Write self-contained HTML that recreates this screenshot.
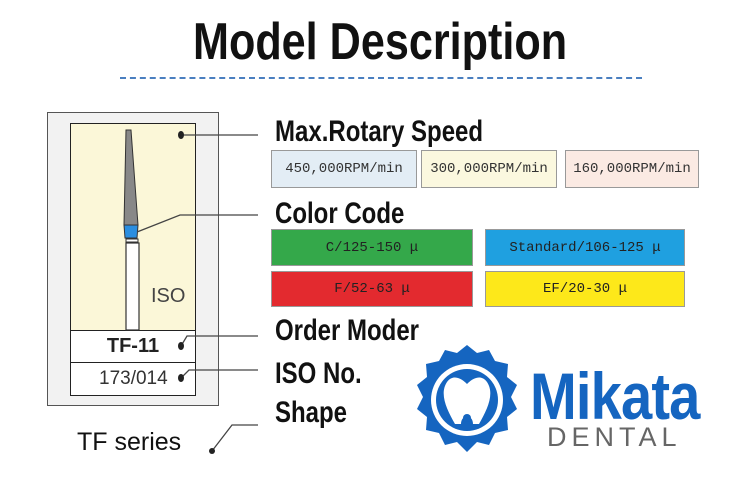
<!DOCTYPE html>
<html><head><meta charset="utf-8"><style>
body{margin:0;width:750px;height:488px;background:#fff;position:relative;overflow:hidden;font-family:"Liberation Sans",sans-serif}
.a{position:absolute}
.h{font-weight:bold;color:#111;white-space:nowrap;transform-origin:left center;transform:scaleX(.8)}
.box{position:absolute;border:1px solid #999;font-family:"Liberation Mono",monospace;font-size:14px;color:#333;display:flex;align-items:center;justify-content:center;box-sizing:border-box}
</style></head><body>
<div class="a h" style="left:193px;top:12px;font-size:52px;transform:scaleX(.83);transform-origin:left top">Model Description</div>
<div class="a" style="left:120px;top:77px;width:522px;border-top:2px dashed #4a7fc0"></div>

<div class="a" style="left:47px;top:112px;width:172px;height:294px;border:1px solid #555;background:#f2f2f2;box-sizing:border-box"></div>
<div class="a" style="left:70px;top:123px;width:126px;height:273px;border:1.5px solid #222;background:#fbf7d8;box-sizing:border-box"></div>
<div class="a" style="left:70px;top:330px;width:126px;height:33px;border:1.5px solid #222;background:#fff;box-sizing:border-box;font-weight:bold;font-size:20px;text-align:center;line-height:31px;color:#222">TF-11</div>
<div class="a" style="left:70px;top:362px;width:126px;height:34px;border:1.5px solid #222;background:#fff;box-sizing:border-box;font-size:19px;padding-left:28px;line-height:32px;color:#333">173/014</div>
<div class="a" style="left:151px;top:285px;font-size:20px;color:#444">ISO</div>
<div class="a" style="left:77px;top:428px;font-size:25px;color:#111">TF series</div>

<svg class="a" style="left:0;top:0" width="750" height="488">
<polygon points="126,130 131,130 138,225 124,225" fill="#888" stroke="#333" stroke-width="1"/>
<polygon points="124,225 138,225 137,238 125,238" fill="#2a8ee0" stroke="#333" stroke-width="1"/>
<rect x="126" y="239" width="12" height="3" fill="#fff" stroke="#333"/>
<rect x="126" y="243" width="13" height="87" fill="#fff" stroke="#333" stroke-width="1.2"/>
<g stroke="#444" stroke-width="1.3" fill="none">
<polyline points="181,135 258,135"/>
<polyline points="137,232 180,215 258,215"/>
<polyline points="181,346 187,336 258,336"/>
<polyline points="181,378 189,370 258,370"/>
<polyline points="212,451 232,425 258,425"/>
</g>
<g fill="#222"><ellipse cx="181" cy="135" rx="3" ry="4"/><ellipse cx="181" cy="346" rx="3" ry="4"/><ellipse cx="181" cy="378" rx="3" ry="4"/><ellipse cx="212" cy="451" rx="3" ry="3"/></g>
<g transform="translate(467,400)">
<path fill="#1565c0" d="M0,-55 L10,-47 22,-50 28,-39 41,-36 40,-23 50,-15 44,-3 50,9 40,17 41,30 28,33 22,45 10,42 0,52 -10,42 -22,45 -28,33 -41,30 -40,17 -50,9 -44,-3 -50,-15 -40,-23 -41,-36 -28,-39 -22,-50 -10,-47Z"/>
<circle r="36" fill="#fff"/><circle r="31" fill="#1565c0"/>
<path fill="#fff" d="M-20,-18 C-14,-26 -6,-22 0,-16 C6,-22 14,-26 20,-18 C28,-6 20,10 12,24 L6,24 C6,14 -6,14 -6,24 L-12,24 C-20,10 -28,-6 -20,-18Z"/>
<circle cx="0" cy="18" r="4" fill="#1565c0"/>
</g>
</svg>

<div class="a h" style="left:275px;top:115px;font-size:30px">Max.Rotary Speed</div>
<div class="a h" style="left:275px;top:197px;font-size:30px">Color Code</div>
<div class="a h" style="left:275px;top:314px;font-size:30px">Order Moder</div>
<div class="a h" style="left:275px;top:357px;font-size:30px">ISO No.</div>
<div class="a h" style="left:275px;top:396px;font-size:30px">Shape</div>

<div class="box" style="left:271px;top:150px;width:146px;height:38px;background:#e3edf5">450,000RPM/min</div>
<div class="box" style="left:421px;top:150px;width:136px;height:38px;background:#fbf8df">300,000RPM/min</div>
<div class="box" style="left:565px;top:150px;width:134px;height:38px;background:#fbeae3">160,000RPM/min</div>
<div class="box" style="left:271px;top:229px;width:202px;height:37px;background:#34a84a;color:#222">C/125-150 μ</div>
<div class="box" style="left:485px;top:229px;width:200px;height:37px;background:#1fa0e0;color:#222">Standard/106-125 μ</div>
<div class="box" style="left:271px;top:271px;width:202px;height:36px;background:#e32a2f;color:#222">F/52-63 μ</div>
<div class="box" style="left:485px;top:271px;width:200px;height:36px;background:#fde81a;color:#222">EF/20-30 μ</div>

<div class="a" style="left:530px;top:358px;font-size:66px;font-weight:bold;color:#1565c0;letter-spacing:-1px;transform:scaleX(.85);transform-origin:left top">Mikata</div>
<div class="a" style="left:547px;top:422px;font-size:27px;color:#666;letter-spacing:5px">DENTAL</div>
</body></html>
